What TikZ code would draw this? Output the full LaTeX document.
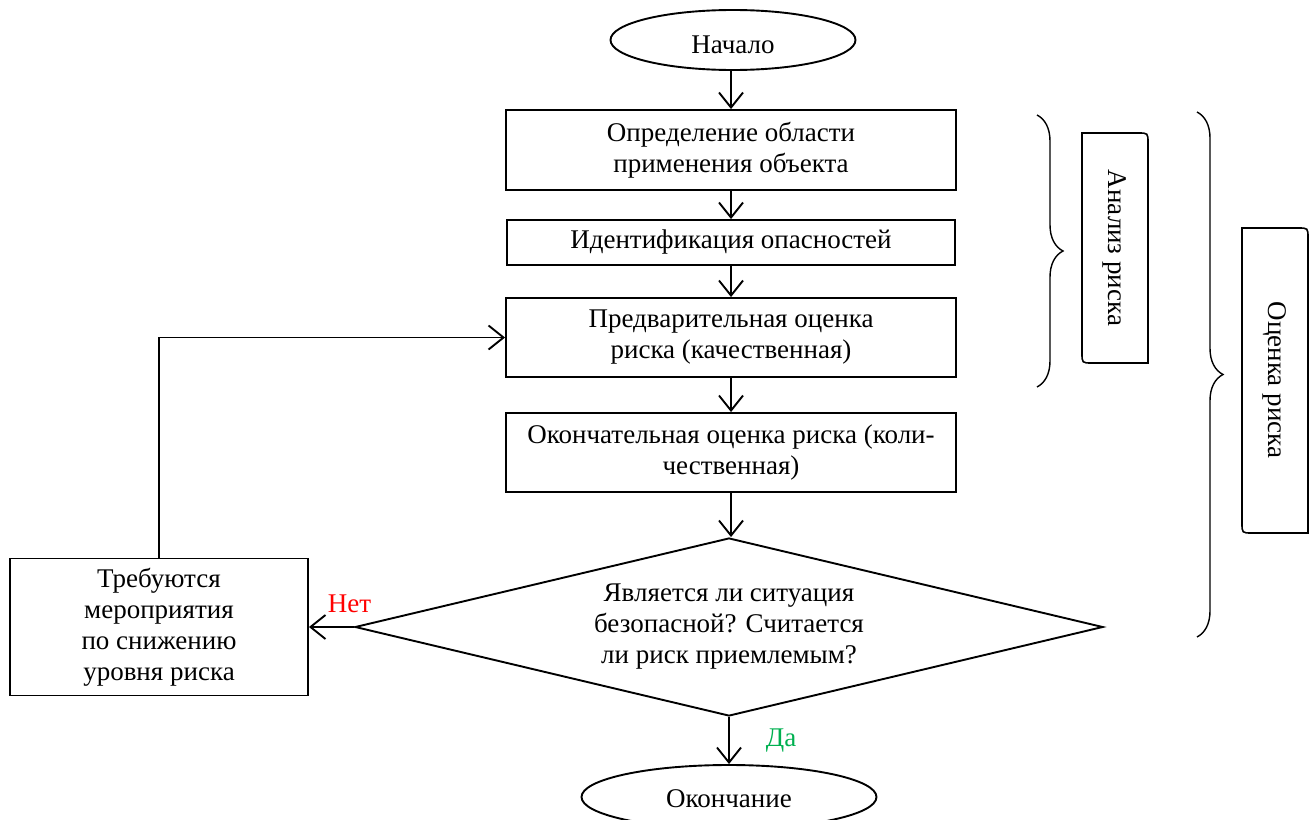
\documentclass[tikz,border=0pt]{standalone}
\usepackage{fontspec}
\setmainfont{Liberation Serif}
\usetikzlibrary{shapes.geometric,arrows.meta,decorations.pathreplacing}
\definecolor{yesgreen}{RGB}{0,176,80}
\tikzset{
  blk/.style={draw, line width=1.9pt, align=center, inner sep=0pt},
  term/.style={draw, ellipse, line width=1.9pt, inner sep=0pt, text depth=0pt},
  arr/.style={line width=1.9pt, -{Straight Barb[length=15pt,width=24pt]}},
  brc/.style={line width=1.4pt, decorate, decoration={brace, amplitude=26pt}},
  lbl/.style={inner sep=0pt},
}
\begin{document}
\begin{tikzpicture}[x=1pt, y=-1pt, font=\fontsize{27}{31}\selectfont]
    \useasboundingbox (0,0) rectangle (1314,819);
    \node[term, minimum width=245pt, minimum height=60pt, text height=26pt] (start) at (733,40) {Начало};
    \node[blk, minimum width=450pt, minimum height=80pt] (area) at (731,150) {Определение области\\применения объекта};
    \node[blk, minimum width=448pt, minimum height=45pt] (hazard) at (731,242.5) {Идентификация опасностей};
    \node[blk, minimum width=450pt, minimum height=79pt] (prelim) at (731,337.5) {Предварительная оценка\\риска (качественная)};
    \node[blk, minimum width=450pt, minimum height=79pt] (final) at (731,452.5) {Окончательная оценка риска (коли-\\чественная)};
    \node[blk, diamond, shape aspect=4.2, minimum width=748pt, minimum height=178pt] (check) at (729,627) {Является ли ситуация\\безопасной? Считается\\ли риск приемлемым?};
    \node[blk, minimum width=298pt, minimum height=137pt] (measures) at (159,627) {Требуются\\мероприятия\\по снижению\\уровня риска};
    \node[term, minimum width=295pt, minimum height=64pt, text height=20pt] (finish) at (729,797) {Окончание};
    \foreach \a/\b in {start/area, area/hazard, hazard/prelim, prelim/final, final/check}{
        \draw[arr] (\a.south -| final) -- (\b.north -| final);
    }
    \draw[arr] (check) -- node[lbl, pos=0.5, right=36pt, text=yesgreen]{Да} (finish);
    \draw[arr] (check) -- node[lbl, pos=0.1, above=13pt, text=red]{Нет} (measures);
    \draw[arr] (measures) |- (prelim);
    \draw[brc] (1037,115) -- (1037,387);
    \draw[brc] (1197,112) -- (1197,637);
    \draw[line width=1.6pt] (1082,133) -- (1138,133) .. controls (1148,133) .. (1148,143) -- (1148,363)
        -- (1092,363) .. controls (1082,363) .. (1082,353) -- cycle;
    \node[rotate=-90] (analysis) at (1115,248) {Анализ риска};
    \draw[line width=1.6pt] (1242,228) -- (1298,228) .. controls (1308,228) .. (1308,238) -- (1308,533)
        -- (1252,533) .. controls (1242,533) .. (1242,523) -- cycle;
    \node[rotate=-90] (assessment) at (1275,380) {Оценка риска};
\end{tikzpicture}
\end{document}
